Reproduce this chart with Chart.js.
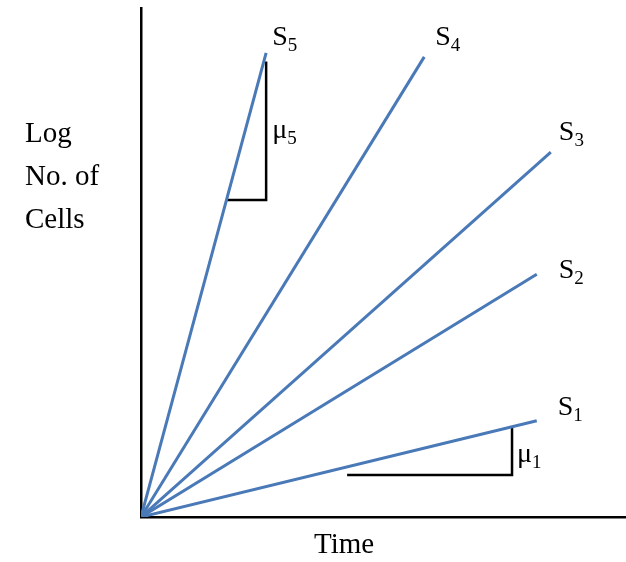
<!DOCTYPE html>
<html>
<head>
<meta charset="utf-8">
<script src="https://cdn.jsdelivr.net/npm/chart.js@4/dist/chart.umd.min.js"></script>
<style>
  html, body { margin: 0; padding: 0; background: #fff; }
  #wrap { width: 626px; height: 562px; }
</style>
</head>
<body>
<div id="wrap"><canvas id="growth"></canvas></div>
<script>
// series (all start at the origin)
const seriesNames = ['1', '2', '3', '4', '5'];
const endTime = [8.16, 8.16, 8.45, 5.84, 2.58];
const endLogCells = [1.89, 4.77, 7.17, 9.04, 9.12];

// slope triangles
const mu5Time = [1.76, 2.58, 2.58];
const mu5Cells = [6.23, 6.23, 8.95];
const mu1Time = [4.25, 7.65, 7.65];
const mu1Cells = [0.825, 0.825, 1.75];

// label offsets (px) from each series' end point: [dx, dy]
const labelOffset = [[21, -6], [22, 4], [8, -12], [11, -12], [6, -8]];

const serif = "'Liberation Serif', 'DejaVu Serif', serif";
const blue = '#4a79b8';

const datasets = seriesNames.map((n, i) => ({
  label: 'S' + n,
  data: [{x: 0, y: 0}, {x: endTime[i], y: endLogCells[i]}],
  borderColor: blue,
  borderWidth: 3,
  pointRadius: 0,
  showLine: true,
  fill: false
}));
const tri = (xs, ys) => ({
  label: 'mu',
  data: xs.map((x, i) => ({x: x, y: ys[i]})),
  borderColor: '#000',
  borderWidth: 2.5,
  pointRadius: 0,
  showLine: true,
  fill: false
});
datasets.push(tri(mu5Time, mu5Cells), tri(mu1Time, mu1Cells));

function subText(ctx, main, sub, x, y) {
  ctx.font = '28px ' + serif;
  ctx.fillText(main, x, y);
  const w = ctx.measureText(main).width;
  ctx.font = '19px ' + serif;
  ctx.fillText(sub, x + w, y + 6);
}

const labels = {
  id: 'labels',
  afterDraw(chart) {
    const {ctx, scales: {x, y}} = chart;
    ctx.save();
    ctx.fillStyle = '#000';
    ctx.textBaseline = 'alphabetic';
    seriesNames.forEach((n, i) => {
      const px = x.getPixelForValue(endTime[i]) + labelOffset[i][0];
      const py = y.getPixelForValue(endLogCells[i]) + labelOffset[i][1];
      subText(ctx, 'S', n, px, py);
    });
    subText(ctx, '\u03bc', '5', x.getPixelForValue(mu5Time[2]) + 6, 138);
    subText(ctx, '\u03bc', '1', x.getPixelForValue(mu1Time[2]) + 5, 462);
    ctx.font = '29px ' + serif;
    ctx.fillText('Log', 25, 142);
    ctx.fillText('No. of', 25, 185);
    ctx.fillText('Cells', 25, 228);
    ctx.fillText('Time', 314, 553);
    ctx.restore();
  }
};

new Chart(document.getElementById('growth'), {
  type: 'scatter',
  data: {datasets: datasets},
  options: {
    responsive: true,
    maintainAspectRatio: false,
    animation: false,
    layout: {padding: {left: 141, top: 8, right: 0, bottom: 45}},
    plugins: {legend: {display: false}, tooltip: {enabled: false}},
    scales: {
      x: {
        type: 'linear', min: 0, max: 10,
        ticks: {display: false},
        grid: {display: false, drawTicks: false},
        border: {display: true, color: '#000', width: 2.5}
      },
      y: {
        type: 'linear', min: 0, max: 10,
        ticks: {display: false},
        grid: {display: false, drawTicks: false},
        border: {display: true, color: '#000', width: 2.5}
      }
    }
  },
  plugins: [labels]
});
</script>
</body>
</html>
